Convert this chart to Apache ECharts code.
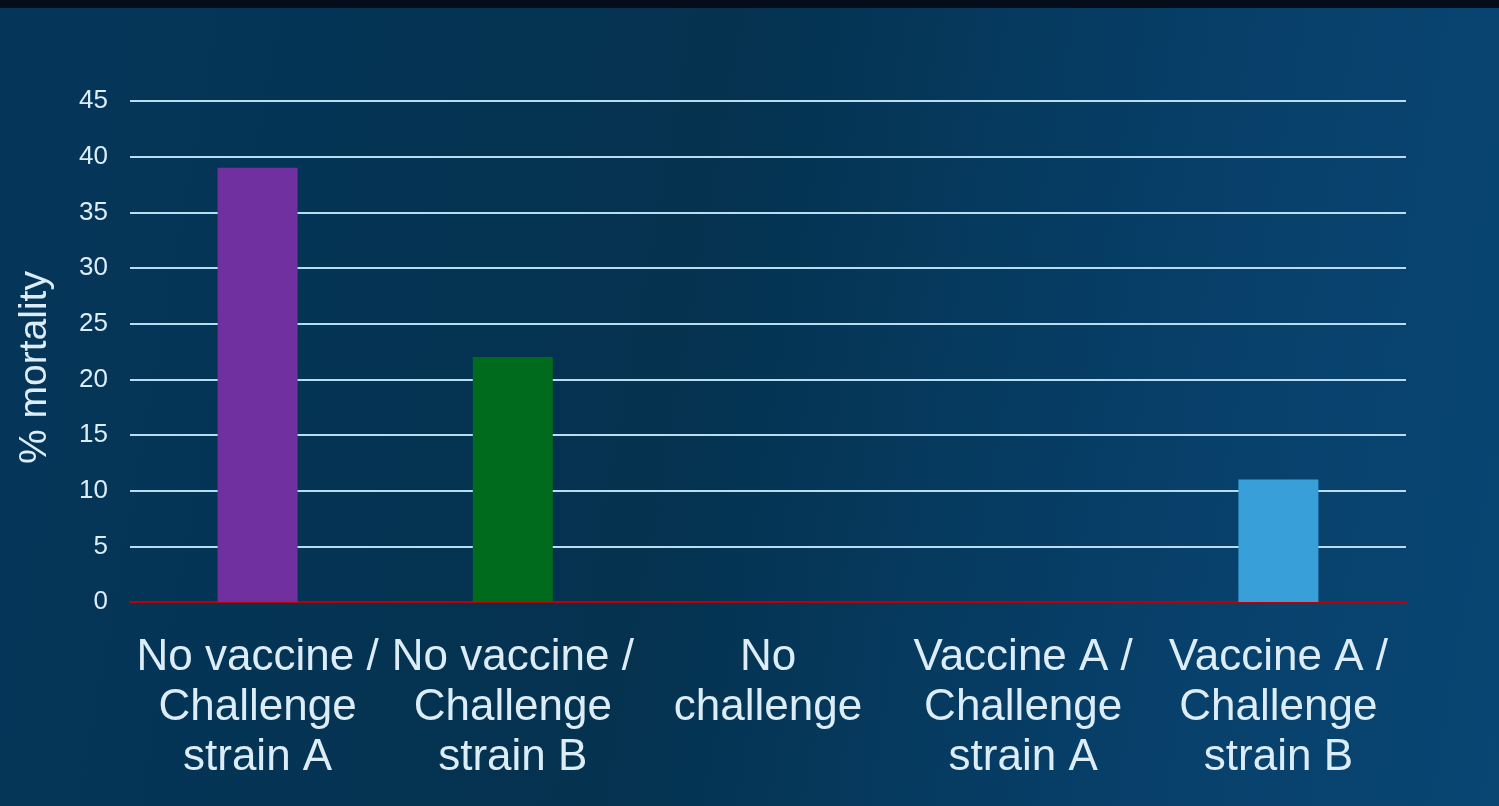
<!DOCTYPE html>
<html>
<head>
<meta charset="utf-8">
<script src="https://cdn.jsdelivr.net/npm/echarts@6/dist/echarts.min.js"></script>
<style>
  html, body {
    margin: 0;
    padding: 0;
    width: 1499px;
    height: 806px;
    overflow: hidden;
    background: linear-gradient(100deg, #05365a 0%, #04324f 45%, #073f69 75%, #094673 100%);
  }
  #topStrip {
    position: absolute;
    left: 0;
    top: 0;
    width: 1499px;
    height: 8px;
    background: #060d1a;
  }
  #mortality {
    position: absolute;
    left: 0;
    top: 0;
    width: 1499px;
    height: 806px;
  }
</style>
</head>
<body>
<div id="topStrip"></div>
<div id="mortality"></div>
<script>
// data
const groups = [
  'No vaccine /\nChallenge\nstrain A',
  'No vaccine /\nChallenge\nstrain B',
  'No\nchallenge',
  'Vaccine A /\nChallenge\nstrain A',
  'Vaccine A /\nChallenge\nstrain B',
];
const mortality = [39, 22, 0, 0, 11];
const barColors = ['#7030a0', '#006a1d', '#00b050', '#4472c4', '#389fd9'];
const yTicks = { min: 0, max: 45, interval: 5 };

const textColor = '#dcedf8';
const myChart = echarts.init(document.getElementById('mortality'));

const option = {
  animation: false,
  grid: {
    left: 130,
    right: 93,
    top: 101,
    bottom: 204,
    outerBoundsMode: 'none',
    containLabel: false,
  },
  xAxis: {
    type: 'category',
    data: groups,
    axisTick: { show: false },
    axisLine: {
      lineStyle: {
        color: '#c00000', // red baseline
        width: 2,
      },
    },
    axisLabel: {
      interval: 0,
      margin: 31,
      color: textColor,
      fontFamily: 'Liberation Sans, Arial, sans-serif',
      fontSize: 44,
      lineHeight: 50,
    },
  },
  yAxis: {
    type: 'value',
    min: yTicks.min,
    max: yTicks.max,
    interval: yTicks.interval,
    name: '% mortality',
    nameLocation: 'middle',
    nameGap: 75,
    nameTextStyle: {
      color: textColor,
      fontFamily: 'Liberation Sans, Arial, sans-serif',
      fontSize: 39,
      padding: [0, 32, 0, 0],
    },
    axisLine: { show: false },
    axisTick: { show: false },
    axisLabel: {
      margin: 22,
      color: textColor,
      fontFamily: 'Liberation Sans, Arial, sans-serif',
      fontSize: 26,
    },
    splitLine: {
      lineStyle: {
        color: '#b8dcf2',
        width: 2,
      },
    },
  },
  series: [{
    name: '% mortality',
    type: 'bar',
    barWidth: 80,
    data: mortality.map((v, i) => ({
      value: v,
      itemStyle: { color: barColors[i] },
    })),
  }],
};

myChart.setOption(option);
</script>
</body>
</html>
